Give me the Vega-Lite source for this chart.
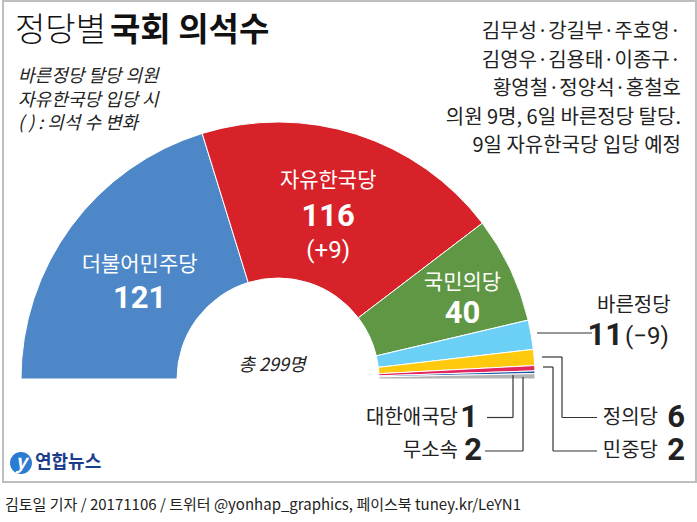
{
  "$schema": "https://vega.github.io/schema/vega-lite/v6.json",
  "width": 550,
  "height": 286,
  "autosize": {"type": "none"},
  "padding": {"left": 3, "top": 236, "right": 144, "bottom": 0},
  "background": "white",
  "config": {"view": {"stroke": null}, "font": "Noto Sans CJK KR", "text": {"font": "Noto Sans CJK KR"}},
  "datasets": {
    "seats": [
      {"order": 1, "party": "더불어민주당", "seats": 121, "change": ""},
      {"order": 2, "party": "자유한국당", "seats": 116, "change": "(+9)"},
      {"order": 3, "party": "국민의당", "seats": 40, "change": ""},
      {"order": 4, "party": "바른정당", "seats": 11, "change": "(−9)"},
      {"order": 5, "party": "정의당", "seats": 6, "change": ""},
      {"order": 6, "party": "민중당", "seats": 2, "change": ""},
      {"order": 7, "party": "대한애국당", "seats": 1, "change": ""},
      {"order": 8, "party": "무소속", "seats": 2, "change": ""}
    ]
  },
  "data": {"name": "seats"},
  "layer": [
    {
      "data": {"values": [{}]},
      "mark": {"type": "rect", "filled": false, "stroke": "#bfbfbf", "strokeWidth": 2},
      "encoding": {
        "x": {"datum": -107.0, "type": "quantitative", "scale": {"domain": [-107, 107], "nice": false, "zero": false}, "axis": null},
        "x2": {"datum": 162.64},
        "y": {"datum": 147.08, "type": "quantitative", "scale": {"domain": [-55.64, 55.64], "nice": false, "zero": false}, "axis": null},
        "y2": {"datum": -40.08}
      }
    },
    {
      "mark": {"type": "arc", "outerRadius": 257, "innerRadius": 101, "stroke": "white", "strokeWidth": 1},
      "encoding": {
        "theta": {"field": "seats", "type": "quantitative", "stack": true, "scale": {"range": [-1.5708, 1.5708]}},
        "order": {"field": "order", "type": "quantitative"},
        "color": {
          "field": "party", "type": "nominal", "legend": null,
          "scale": {
            "domain": ["더불어민주당", "자유한국당", "국민의당", "바른정당", "정의당", "민중당", "대한애국당", "무소속"],
            "range": ["#4d87c7", "#d8222a", "#5f9745", "#6ccff6", "#ffc90e", "#e2265e", "#1b57a7", "#b3b3b3"]
          }
        }
      }
    },
    {
      "mark": {"type": "text", "radius": 172, "dy": -12, "fontSize": 21, "color": "white"},
      "encoding": {
        "theta": {"field": "seats", "type": "quantitative", "stack": true, "scale": {"range": [-1.5708, 1.5708]}},
        "order": {"field": "order", "type": "quantitative"},
        "detail": {"field": "party", "type": "nominal"},
        "text": {"condition": {"test": "datum.party === '더불어민주당'", "field": "party", "type": "nominal"}, "value": ""}
      }
    },
    {
      "mark": {"type": "text", "radius": 172, "dy": 22, "fontSize": 31, "fontWeight": "bold", "font": "Liberation Sans Narrow, Roboto, sans-serif", "color": "white"},
      "encoding": {
        "theta": {"field": "seats", "type": "quantitative", "stack": true, "scale": {"range": [-1.5708, 1.5708]}},
        "order": {"field": "order", "type": "quantitative"},
        "detail": {"field": "party", "type": "nominal"},
        "text": {"condition": {"test": "datum.party === '더불어민주당'", "field": "seats", "type": "quantitative"}, "value": ""}
      }
    },
    {
      "mark": {"type": "text", "radius": 164.5, "dy": -41, "fontSize": 21, "color": "white"},
      "encoding": {
        "theta": {"field": "seats", "type": "quantitative", "stack": true, "scale": {"range": [-1.5708, 1.5708]}},
        "order": {"field": "order", "type": "quantitative"},
        "detail": {"field": "party", "type": "nominal"},
        "text": {"condition": {"test": "datum.party === '자유한국당'", "field": "party", "type": "nominal"}, "value": ""}
      }
    },
    {
      "mark": {"type": "text", "radius": 164.5, "dy": -5, "fontSize": 31, "fontWeight": "bold", "font": "Liberation Sans Narrow, Roboto, sans-serif", "color": "white"},
      "encoding": {
        "theta": {"field": "seats", "type": "quantitative", "stack": true, "scale": {"range": [-1.5708, 1.5708]}},
        "order": {"field": "order", "type": "quantitative"},
        "detail": {"field": "party", "type": "nominal"},
        "text": {"condition": {"test": "datum.party === '자유한국당'", "field": "seats", "type": "quantitative"}, "value": ""}
      }
    },
    {
      "mark": {"type": "text", "radius": 164.5, "dy": 29, "fontSize": 24, "font": "Liberation Sans Narrow, Roboto, sans-serif", "color": "white"},
      "encoding": {
        "theta": {"field": "seats", "type": "quantitative", "stack": true, "scale": {"range": [-1.5708, 1.5708]}},
        "order": {"field": "order", "type": "quantitative"},
        "detail": {"field": "party", "type": "nominal"},
        "text": {"condition": {"test": "datum.party === '자유한국당'", "field": "change", "type": "nominal"}, "value": ""}
      }
    },
    {
      "mark": {"type": "text", "radius": 204, "dy": -9, "fontSize": 21, "color": "white"},
      "encoding": {
        "theta": {"field": "seats", "type": "quantitative", "stack": true, "scale": {"range": [-1.5708, 1.5708]}},
        "order": {"field": "order", "type": "quantitative"},
        "detail": {"field": "party", "type": "nominal"},
        "text": {"condition": {"test": "datum.party === '국민의당'", "field": "party", "type": "nominal"}, "value": ""}
      }
    },
    {
      "mark": {"type": "text", "radius": 204, "dy": 22, "fontSize": 31, "fontWeight": "bold", "font": "Liberation Sans Narrow, Roboto, sans-serif", "color": "white"},
      "encoding": {
        "theta": {"field": "seats", "type": "quantitative", "stack": true, "scale": {"range": [-1.5708, 1.5708]}},
        "order": {"field": "order", "type": "quantitative"},
        "detail": {"field": "party", "type": "nominal"},
        "text": {"condition": {"test": "datum.party === '국민의당'", "field": "seats", "type": "quantitative"}, "value": ""}
      }
    },
    {
      "data": {"values": [{}]},
      "mark": {"type": "text", "text": "총 299명", "fontSize": 18, "fontStyle": "italic", "color": "#222222", "align": "center", "baseline": "middle"},
      "encoding": {
        "x": {"datum": -2.33, "type": "quantitative", "scale": {"domain": [-107, 107], "nice": false, "zero": false}, "axis": null},
        "y": {"datum": 5.06, "type": "quantitative", "scale": {"domain": [-55.64, 55.64], "nice": false, "zero": false}, "axis": null}
      }
    },
    {
      "data": {"values": [{}]},
      "mark": {"type": "text", "text": "정당별", "fontSize": 33, "fontWeight": 300, "color": "#111111", "align": "left", "baseline": "middle"},
      "encoding": {
        "x": {"datum": -102.33, "type": "quantitative", "scale": {"domain": [-107, 107], "nice": false, "zero": false}, "axis": null},
        "y": {"datum": 135.4, "type": "quantitative", "scale": {"domain": [-55.64, 55.64], "nice": false, "zero": false}, "axis": null}
      }
    },
    {
      "data": {"values": [{}]},
      "mark": {"type": "text", "text": "국회 의석수", "fontSize": 33, "fontWeight": "bold", "color": "#111111", "align": "left", "baseline": "middle"},
      "encoding": {
        "x": {"datum": -65.37, "type": "quantitative", "scale": {"domain": [-107, 107], "nice": false, "zero": false}, "axis": null},
        "y": {"datum": 135.4, "type": "quantitative", "scale": {"domain": [-55.64, 55.64], "nice": false, "zero": false}, "axis": null}
      }
    },
    {
      "data": {"values": [{}]},
      "mark": {"type": "text", "text": ["바른정당 탈당 의원", "자유한국당 입당 시", "( ) : 의석 수 변화"], "fontSize": 18, "fontStyle": "italic", "lineHeight": 23.5, "color": "#222222", "align": "left", "baseline": "middle"},
      "encoding": {
        "x": {"datum": -101.16, "type": "quantitative", "scale": {"domain": [-107, 107], "nice": false, "zero": false}, "axis": null},
        "y": {"datum": 117.5, "type": "quantitative", "scale": {"domain": [-55.64, 55.64], "nice": false, "zero": false}, "axis": null}
      }
    },
    {
      "data": {"values": [{}]},
      "mark": {"type": "text", "text": ["김무성·강길부·주호영·", "김영우·김용태·이종구·", "황영철·정양석·홍철호", "의원 9명, 6일 바른정당 탈당.", "9일 자유한국당 입당 예정"], "fontSize": 20, "lineHeight": 28.5, "color": "#222222", "align": "right", "baseline": "middle"},
      "encoding": {
        "x": {"datum": 156.8, "type": "quantitative", "scale": {"domain": [-107, 107], "nice": false, "zero": false}, "axis": null},
        "y": {"datum": 135.01, "type": "quantitative", "scale": {"domain": [-55.64, 55.64], "nice": false, "zero": false}, "axis": null}
      }
    },
    {
      "transform": [{"filter": "datum.party === '바른정당'"}],
      "mark": {"type": "text", "fontSize": 20, "color": "#222222", "align": "left", "baseline": "middle"},
      "encoding": {
        "text": {"field": "party", "type": "nominal"},
        "x": {"datum": 124.12, "type": "quantitative", "scale": {"domain": [-107, 107], "nice": false, "zero": false}, "axis": null},
        "y": {"datum": 28.4, "type": "quantitative", "scale": {"domain": [-55.64, 55.64], "nice": false, "zero": false}, "axis": null}
      }
    },
    {
      "transform": [{"filter": "datum.party === '바른정당'"}],
      "mark": {"type": "text", "fontSize": 31, "fontWeight": "bold", "font": "Liberation Sans Narrow, Roboto, sans-serif", "color": "#222222", "align": "right", "baseline": "middle"},
      "encoding": {
        "text": {"field": "seats", "type": "quantitative"},
        "x": {"datum": 134.24, "type": "quantitative", "scale": {"domain": [-107, 107], "nice": false, "zero": false}, "axis": null},
        "y": {"datum": 16.73, "type": "quantitative", "scale": {"domain": [-55.64, 55.64], "nice": false, "zero": false}, "axis": null}
      }
    },
    {
      "transform": [{"filter": "datum.party === '바른정당'"}],
      "mark": {"type": "text", "fontSize": 24, "font": "Liberation Sans Narrow, Roboto, sans-serif", "color": "#222222", "align": "left", "baseline": "middle"},
      "encoding": {
        "text": {"field": "change", "type": "nominal"},
        "x": {"datum": 135.01, "type": "quantitative", "scale": {"domain": [-107, 107], "nice": false, "zero": false}, "axis": null},
        "y": {"datum": 16.34, "type": "quantitative", "scale": {"domain": [-55.64, 55.64], "nice": false, "zero": false}, "axis": null}
      }
    },
    {
      "transform": [{"filter": "datum.party === '정의당'"}],
      "mark": {"type": "text", "fontSize": 20, "color": "#222222", "align": "right", "baseline": "middle"},
      "encoding": {
        "text": {"field": "party", "type": "nominal"},
        "x": {"datum": 147.85, "type": "quantitative", "scale": {"domain": [-107, 107], "nice": false, "zero": false}, "axis": null},
        "y": {"datum": -14.98, "type": "quantitative", "scale": {"domain": [-55.64, 55.64], "nice": false, "zero": false}, "axis": null}
      }
    },
    {
      "transform": [{"filter": "datum.party === '정의당'"}],
      "mark": {"type": "text", "fontSize": 31, "fontWeight": "bold", "font": "Liberation Sans Narrow, Roboto, sans-serif", "color": "#222222", "align": "right", "baseline": "middle"},
      "encoding": {
        "text": {"field": "seats", "type": "quantitative"},
        "x": {"datum": 158.36, "type": "quantitative", "scale": {"domain": [-107, 107], "nice": false, "zero": false}, "axis": null},
        "y": {"datum": -14.98, "type": "quantitative", "scale": {"domain": [-55.64, 55.64], "nice": false, "zero": false}, "axis": null}
      }
    },
    {
      "transform": [{"filter": "datum.party === '민중당'"}],
      "mark": {"type": "text", "fontSize": 20, "color": "#222222", "align": "right", "baseline": "middle"},
      "encoding": {
        "text": {"field": "party", "type": "nominal"},
        "x": {"datum": 147.85, "type": "quantitative", "scale": {"domain": [-107, 107], "nice": false, "zero": false}, "axis": null},
        "y": {"datum": -28.01, "type": "quantitative", "scale": {"domain": [-55.64, 55.64], "nice": false, "zero": false}, "axis": null}
      }
    },
    {
      "transform": [{"filter": "datum.party === '민중당'"}],
      "mark": {"type": "text", "fontSize": 31, "fontWeight": "bold", "font": "Liberation Sans Narrow, Roboto, sans-serif", "color": "#222222", "align": "right", "baseline": "middle"},
      "encoding": {
        "text": {"field": "seats", "type": "quantitative"},
        "x": {"datum": 158.36, "type": "quantitative", "scale": {"domain": [-107, 107], "nice": false, "zero": false}, "axis": null},
        "y": {"datum": -28.01, "type": "quantitative", "scale": {"domain": [-55.64, 55.64], "nice": false, "zero": false}, "axis": null}
      }
    },
    {
      "transform": [{"filter": "datum.party === '대한애국당'"}],
      "mark": {"type": "text", "fontSize": 20, "color": "#222222", "align": "right", "baseline": "middle"},
      "encoding": {
        "text": {"field": "party", "type": "nominal"},
        "x": {"datum": 70.04, "type": "quantitative", "scale": {"domain": [-107, 107], "nice": false, "zero": false}, "axis": null},
        "y": {"datum": -14.98, "type": "quantitative", "scale": {"domain": [-55.64, 55.64], "nice": false, "zero": false}, "axis": null}
      }
    },
    {
      "transform": [{"filter": "datum.party === '대한애국당'"}],
      "mark": {"type": "text", "fontSize": 31, "fontWeight": "bold", "font": "Liberation Sans Narrow, Roboto, sans-serif", "color": "#222222", "align": "right", "baseline": "middle"},
      "encoding": {
        "text": {"field": "seats", "type": "quantitative"},
        "x": {"datum": 77.82, "type": "quantitative", "scale": {"domain": [-107, 107], "nice": false, "zero": false}, "axis": null},
        "y": {"datum": -14.98, "type": "quantitative", "scale": {"domain": [-55.64, 55.64], "nice": false, "zero": false}, "axis": null}
      }
    },
    {
      "transform": [{"filter": "datum.party === '무소속'"}],
      "mark": {"type": "text", "fontSize": 20, "color": "#222222", "align": "right", "baseline": "middle"},
      "encoding": {
        "text": {"field": "party", "type": "nominal"},
        "x": {"datum": 70.04, "type": "quantitative", "scale": {"domain": [-107, 107], "nice": false, "zero": false}, "axis": null},
        "y": {"datum": -28.01, "type": "quantitative", "scale": {"domain": [-55.64, 55.64], "nice": false, "zero": false}, "axis": null}
      }
    },
    {
      "transform": [{"filter": "datum.party === '무소속'"}],
      "mark": {"type": "text", "fontSize": 31, "fontWeight": "bold", "font": "Liberation Sans Narrow, Roboto, sans-serif", "color": "#222222", "align": "right", "baseline": "middle"},
      "encoding": {
        "text": {"field": "seats", "type": "quantitative"},
        "x": {"datum": 79.37, "type": "quantitative", "scale": {"domain": [-107, 107], "nice": false, "zero": false}, "axis": null},
        "y": {"datum": -28.01, "type": "quantitative", "scale": {"domain": [-55.64, 55.64], "nice": false, "zero": false}, "axis": null}
      }
    },
    {"data": {"values": [{}]}, "mark": {"type": "rule", "color": "#333333", "strokeWidth": 1.2}, "encoding": {"x": {"datum": 100.77, "type": "quantitative", "scale": {"domain": [-107, 107], "nice": false, "zero": false}, "axis": null}, "x2": {"datum": 122.17}, "y": {"datum": 17.9, "type": "quantitative", "scale": {"domain": [-55.64, 55.64], "nice": false, "zero": false}, "axis": null}}},
    {"data": {"values": [{}]}, "mark": {"type": "rule", "color": "#333333", "strokeWidth": 1.2}, "encoding": {"x": {"datum": 102.72, "type": "quantitative", "scale": {"domain": [-107, 107], "nice": false, "zero": false}, "axis": null}, "x2": {"datum": 110.5}, "y": {"datum": 8.56, "type": "quantitative", "scale": {"domain": [-55.64, 55.64], "nice": false, "zero": false}, "axis": null}}},
    {"data": {"values": [{}]}, "mark": {"type": "rule", "color": "#333333", "strokeWidth": 1.2}, "encoding": {"x": {"datum": 110.5, "type": "quantitative", "scale": {"domain": [-107, 107], "nice": false, "zero": false}, "axis": null}, "y": {"datum": 8.56, "type": "quantitative", "scale": {"domain": [-55.64, 55.64], "nice": false, "zero": false}, "axis": null}, "y2": {"datum": -14.98}}},
    {"data": {"values": [{}]}, "mark": {"type": "rule", "color": "#333333", "strokeWidth": 1.2}, "encoding": {"x": {"datum": 110.5, "type": "quantitative", "scale": {"domain": [-107, 107], "nice": false, "zero": false}, "axis": null}, "x2": {"datum": 124.12}, "y": {"datum": -14.98, "type": "quantitative", "scale": {"domain": [-55.64, 55.64], "nice": false, "zero": false}, "axis": null}}},
    {"data": {"values": [{}]}, "mark": {"type": "rule", "color": "#333333", "strokeWidth": 1.2}, "encoding": {"x": {"datum": 103.11, "type": "quantitative", "scale": {"domain": [-107, 107], "nice": false, "zero": false}, "axis": null}, "x2": {"datum": 107.0}, "y": {"datum": 4.67, "type": "quantitative", "scale": {"domain": [-55.64, 55.64], "nice": false, "zero": false}, "axis": null}}},
    {"data": {"values": [{}]}, "mark": {"type": "rule", "color": "#333333", "strokeWidth": 1.2}, "encoding": {"x": {"datum": 107.0, "type": "quantitative", "scale": {"domain": [-107, 107], "nice": false, "zero": false}, "axis": null}, "y": {"datum": 4.67, "type": "quantitative", "scale": {"domain": [-55.64, 55.64], "nice": false, "zero": false}, "axis": null}, "y2": {"datum": -28.01}}},
    {"data": {"values": [{}]}, "mark": {"type": "rule", "color": "#333333", "strokeWidth": 1.2}, "encoding": {"x": {"datum": 107.0, "type": "quantitative", "scale": {"domain": [-107, 107], "nice": false, "zero": false}, "axis": null}, "x2": {"datum": 124.12}, "y": {"datum": -28.01, "type": "quantitative", "scale": {"domain": [-55.64, 55.64], "nice": false, "zero": false}, "axis": null}}},
    {"data": {"values": [{}]}, "mark": {"type": "rule", "color": "#333333", "strokeWidth": 1.2}, "encoding": {"x": {"datum": 91.44, "type": "quantitative", "scale": {"domain": [-107, 107], "nice": false, "zero": false}, "axis": null}, "y": {"datum": 1.56, "type": "quantitative", "scale": {"domain": [-55.64, 55.64], "nice": false, "zero": false}, "axis": null}, "y2": {"datum": -14.98}}},
    {"data": {"values": [{}]}, "mark": {"type": "rule", "color": "#333333", "strokeWidth": 1.2}, "encoding": {"x": {"datum": 81.32, "type": "quantitative", "scale": {"domain": [-107, 107], "nice": false, "zero": false}, "axis": null}, "x2": {"datum": 91.44}, "y": {"datum": -14.98, "type": "quantitative", "scale": {"domain": [-55.64, 55.64], "nice": false, "zero": false}, "axis": null}}},
    {"data": {"values": [{}]}, "mark": {"type": "rule", "color": "#333333", "strokeWidth": 1.2}, "encoding": {"x": {"datum": 95.33, "type": "quantitative", "scale": {"domain": [-107, 107], "nice": false, "zero": false}, "axis": null}, "y": {"datum": 0.78, "type": "quantitative", "scale": {"domain": [-55.64, 55.64], "nice": false, "zero": false}, "axis": null}, "y2": {"datum": -28.01}}},
    {"data": {"values": [{}]}, "mark": {"type": "rule", "color": "#333333", "strokeWidth": 1.2}, "encoding": {"x": {"datum": 80.54, "type": "quantitative", "scale": {"domain": [-107, 107], "nice": false, "zero": false}, "axis": null}, "x2": {"datum": 95.33}, "y": {"datum": -28.01, "type": "quantitative", "scale": {"domain": [-55.64, 55.64], "nice": false, "zero": false}, "axis": null}}},
    {
      "data": {"values": [{}]},
      "mark": {"type": "point", "shape": "circle", "filled": true, "opacity": 1, "color": "#2a7bd2", "size": 480},
      "encoding": {
        "x": {"datum": -100.0, "type": "quantitative", "scale": {"domain": [-107, 107], "nice": false, "zero": false}, "axis": null},
        "y": {"datum": -32.68, "type": "quantitative", "scale": {"domain": [-55.64, 55.64], "nice": false, "zero": false}, "axis": null}
      }
    },
    {
      "data": {"values": [{}]},
      "mark": {"type": "text", "text": "y", "fontSize": 20, "fontWeight": "bold", "fontStyle": "italic", "color": "white", "align": "center", "baseline": "middle"},
      "encoding": {
        "x": {"datum": -100.0, "type": "quantitative", "scale": {"domain": [-107, 107], "nice": false, "zero": false}, "axis": null},
        "y": {"datum": -32.68, "type": "quantitative", "scale": {"domain": [-55.64, 55.64], "nice": false, "zero": false}, "axis": null}
      }
    },
    {
      "data": {"values": [{}]},
      "mark": {"type": "text", "text": "연합뉴스", "fontSize": 18, "fontWeight": "bold", "color": "#1c3d8c", "align": "left", "baseline": "middle"},
      "encoding": {
        "x": {"datum": -94.55, "type": "quantitative", "scale": {"domain": [-107, 107], "nice": false, "zero": false}, "axis": null},
        "y": {"datum": -32.68, "type": "quantitative", "scale": {"domain": [-55.64, 55.64], "nice": false, "zero": false}, "axis": null}
      }
    },
    {
      "data": {"values": [{}]},
      "mark": {"type": "text", "text": "김토일 기자 / 20171106 / 트위터 @yonhap_graphics, 페이스북 tuney.kr/LeYN1", "fontSize": 15, "color": "#222222", "align": "left", "baseline": "middle"},
      "encoding": {
        "x": {"datum": -106.22, "type": "quantitative", "scale": {"domain": [-107, 107], "nice": false, "zero": false}, "axis": null},
        "y": {"datum": -49.03, "type": "quantitative", "scale": {"domain": [-55.64, 55.64], "nice": false, "zero": false}, "axis": null}
      }
    }
  ]
}
